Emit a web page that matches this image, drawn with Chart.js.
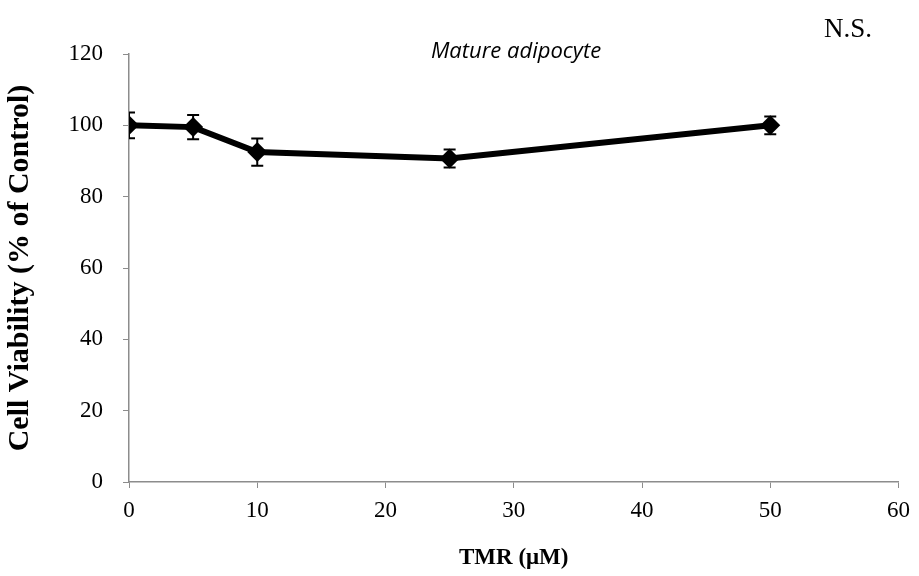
<!DOCTYPE html>
<html>
<head>
<meta charset="utf-8">
<script src="https://cdn.jsdelivr.net/npm/chart.js@4/dist/chart.umd.min.js"></script>
<style>
  html, body { margin: 0; padding: 0; background: #fff; }
  #wrap { width: 919px; height: 576px; }
</style>
</head>
<body>
<div id="wrap"><canvas id="grafico"></canvas></div>
<script>
// Dados
const concentracoes = [0, 5, 10, 25, 50];
const viabilidade = [100, 99.5, 92.5, 90.7, 100];
const erroPadrao = [3.6, 3.4, 3.8, 2.5, 2.5];
const ticksX = [0, 10, 20, 30, 40, 50, 60];
const ticksY = [0, 20, 40, 60, 80, 100, 120];

const cinza = '#8c8c8c';

// Barras de erro desenhadas por baixo dos marcadores (recortadas na área do gráfico)
const barrasErro = {
    id: 'barrasErro',
    beforeDatasetsDraw(chart) {
        const { ctx, chartArea, scales: { x, y } } = chart;
        ctx.save();
        ctx.beginPath();
        ctx.rect(chartArea.left, 0, chartArea.right - chartArea.left, chart.height);
        ctx.clip();
        ctx.strokeStyle = '#000';
        ctx.lineWidth = 2;
        concentracoes.forEach((c, i) => {
            const px = x.getPixelForValue(c);
            const top = y.getPixelForValue(viabilidade[i] + erroPadrao[i]);
            const bot = y.getPixelForValue(viabilidade[i] - erroPadrao[i]);
            ctx.beginPath();
            ctx.moveTo(px, top); ctx.lineTo(px, bot);
            ctx.moveTo(px - 6, top); ctx.lineTo(px + 6, top);
            ctx.moveTo(px - 6, bot); ctx.lineTo(px + 6, bot);
            ctx.stroke();
        });
        ctx.restore();
    }
};

// Títulos soltos: nome da célula e "N.S."
const textos = {
    id: 'textos',
    afterDraw(chart) {
        const { ctx } = chart;
        ctx.save();
        ctx.fillStyle = '#000';
        ctx.textAlign = 'center';
        ctx.textBaseline = 'middle';
        ctx.font = 'italic 22px "Open Sans", "Noto Sans", sans-serif';
        ctx.fillText('Mature adipocyte', 516, 52);
        ctx.font = '27px "Liberation Serif", "Times New Roman", serif';
        ctx.fillText('N.S.', 848, 30);
        ctx.restore();
    }
};

new Chart(document.getElementById('grafico'), {
    type: 'scatter',
    data: {
        datasets: [{
            data: concentracoes.map((c, i) => ({ x: c, y: viabilidade[i] })),
            showLine: true,
            borderColor: '#000',
            borderWidth: 6,
            backgroundColor: '#000',
            pointStyle: 'rectRot',
            pointRadius: 10,
            pointHoverRadius: 10,
            pointBorderWidth: 0
        }]
    },
    options: {
        responsive: true,
        maintainAspectRatio: false,
        animation: false,
        layout: { padding: { top: 54, right: 19, left: 0, bottom: 0 } },
        plugins: { legend: { display: false }, tooltip: { enabled: false } },
        scales: {
            x: {
                type: 'linear',
                min: 0, max: 60,
                afterBuildTicks: (s) => { s.ticks = ticksX.map(v => ({ value: v })); },
                afterFit: (s) => { s.height = 94; },
                grid: { drawOnChartArea: false, tickLength: 6, color: cinza },
                border: { color: cinza, width: 1.5 },
                ticks: { color: '#000', padding: 9, maxRotation: 0,
                    font: { family: '"Liberation Serif", serif', size: 23 } },
                title: { display: true, text: 'TMR (μM)', color: '#000', padding: { top: 14, bottom: 4 },
                    font: { family: '"Liberation Serif", serif', size: 23, weight: 'bold' } }
            },
            y: {
                min: 0, max: 120,
                afterBuildTicks: (s) => { s.ticks = ticksY.map(v => ({ value: v })); },
                afterFit: (s) => { s.width = 129; },
                grid: { drawOnChartArea: false, tickLength: 6, color: cinza },
                border: { color: cinza, width: 1.5 },
                ticks: { color: '#000', padding: 20,
                    font: { family: '"Liberation Serif", serif', size: 23 } },
                title: { display: true, text: 'Cell Viability (% of Control)', color: '#000', padding: { top: 2, bottom: 0 },
                    font: { family: '"Liberation Serif", serif', size: 30, weight: 'bold' } }
            }
        }
    },
    plugins: [barrasErro, textos]
});
</script>
</body>
</html>
